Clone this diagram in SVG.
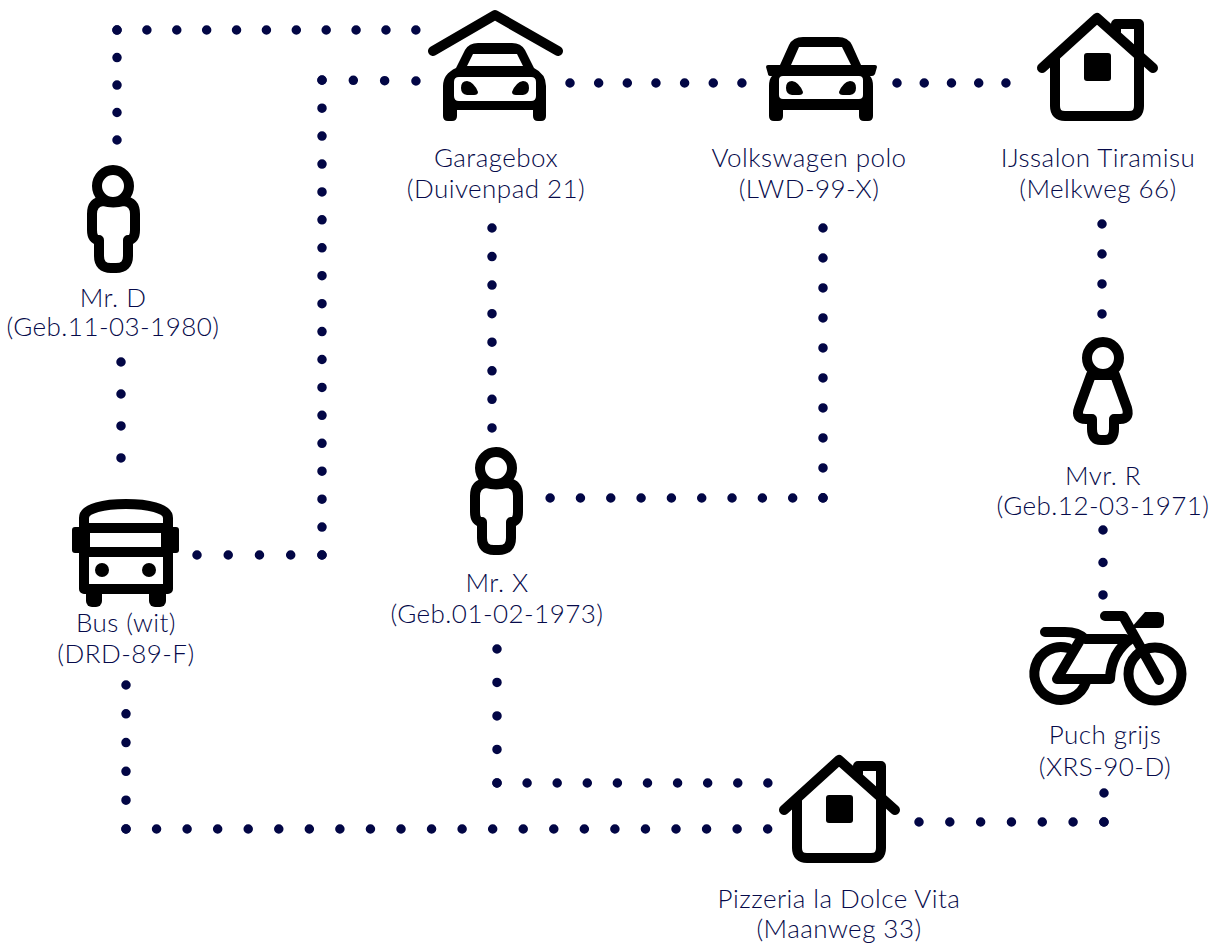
<svg xmlns="http://www.w3.org/2000/svg" xmlns:xlink="http://www.w3.org/1999/xlink" width="1216" height="944" viewBox="0 0 1216 944">
<style>
text{font-family:"Lato","Noto Sans",sans-serif;font-size:26px;letter-spacing:.45px;font-weight:300;fill:#060a4a;text-anchor:middle}
.i{fill:none;stroke:#000;stroke-width:10;stroke-linecap:round;stroke-linejoin:round}
.f{fill:#000;stroke:none;fill-rule:evenodd}
#connectors path{fill:none;stroke:#020645;stroke-width:9.5;stroke-linecap:round;stroke-dasharray:0 .9995}
</style>
<defs>
<g id="house">
<path class="i" d="M1042 68L1097 18L1153 68"/>
<path class="i" d="M1055 58V106Q1055 116 1065 116H1129Q1139 116 1139 106V24H1116V32"/>
<rect class="f" x="1084" y="53" width="27" height="28" rx="3"/>
</g>
<g id="man">
<circle class="i" cx="113" cy="186" r="16"/>
<path class="i" d="M103 201Q113 204 124 201Q135 202 135 214V230Q135 240 128 240V256Q128 268 116 268H111Q99 268 99 256V240Q92 240 92 230V214Q92 202 103 201Z"/>
</g>
</defs>
<g id="connectors">
<path pathLength="4" d="M117 140V30"/><path pathLength="10" d="M117 30H416"/>
<path pathLength="4" d="M197 555H322"/><path pathLength="17" d="M322 555V80"/><path pathLength="3" d="M322 80L416 81"/>
<path pathLength="6" d="M570 83H742"/>
<path pathLength="4" d="M897 83H1006"/>
<path pathLength="7" d="M492 228V428"/>
<path pathLength="9" d="M823 228V498"/><path pathLength="9" d="M823 498H550"/>
<path pathLength="3" d="M1102 224V314"/>
<path pathLength="2" d="M1103 530V595"/>
<path pathLength="3" d="M121 362V458"/>
<path pathLength="5" d="M126 685V829"/><path pathLength="21" d="M126 829H768"/>
<path pathLength="4" d="M497 649V783"/><path pathLength="9" d="M497 783H768"/>
<path pathLength="6" d="M919 822H1104"/><path pathLength="1" d="M1104 822V793"/>
</g>
<g id="garagebox">
<path class="i" d="M433 51L495 15L558 51"/>
<path class="f" d="M456 68L465 50Q469 43 478 43H512Q521 43 525 50L534 68Q546 74 546 86V116Q546 121 541 121H538Q533 121 533 116V110H457V116Q457 121 452 121H448Q443 121 443 116V86Q443 74 456 68ZM467 66H523L517 54H473ZM459 77Q454 77 454 82V96Q454 101 459 101H531Q536 101 536 96V82Q536 77 531 77Z"/>
<path class="f" d="M461 88Q461 81 467 81Q474 82 478 92Q478 95 474 95H467Q461 94 461 88ZM529 88Q529 81 523 81Q516 82 512 92Q512 95 516 95H523Q529 94 529 88Z"/>
<text x="496" y="167">Garagebox</text><text x="496" y="198">(Duivenpad 21)</text>
</g>
<g id="volkswagen">
<path class="f" d="M780 65L789 45Q793 37 803 37H838Q848 37 852 45L861 65H875Q877 65 877 67L875 74Q874 76 872 76H870Q873 79 873 86V116Q873 121 868 121H864Q859 121 859 116V110H783V116Q783 121 778 121H774Q769 121 769 116V86Q769 79 772 76H771Q768 76 768 74L766 67Q766 65 768 65ZM791 65H851L842 47H799ZM783 76Q779 76 779 80V95Q779 99 783 99H859Q863 99 863 95V80Q863 76 859 76Z"/>
<path class="f" d="M786 88Q786 81 792 81Q799 82 803 92Q803 95 799 95H792Q786 94 786 88ZM856 88Q856 81 850 81Q843 82 839 92Q839 95 843 95H850Q856 94 856 88Z"/>
<text x="809" y="167">Volkswagen polo</text><text x="809" y="198">(LWD-99-X)</text>
</g>
<g id="ijssalon">
<use xlink:href="#house"/>
<text x="1098" y="167">IJssalon Tiramisu</text><text x="1098" y="198">(Melkweg 66)</text>
</g>
<g id="mr-d">
<use xlink:href="#man"/>
<text x="113" y="307">Mr. D</text><text x="113" y="336">(Geb.11-03-1980)</text>
</g>
<g id="mr-x">
<use xlink:href="#man" x="383" y="282"/>
<text x="497" y="592">Mr. X</text><text x="497" y="623">(Geb.01-02-1973)</text>
</g>
<g id="mvr-r">
<circle class="i" cx="1103" cy="358" r="16"/>
<path class="i" d="M1091 375H1115L1127 408Q1130 419 1120 419H1114V429Q1114 440 1105 440H1101Q1092 440 1092 429V419H1086Q1075 419 1079 408Z"/>
<text x="1103" y="485">Mvr. R</text><text x="1103" y="515">(Geb.12-03-1971)</text>
</g>
<g id="bus">
<path class="i" d="M84 589V518C84 508 105 504 126 504C147 504 168 508 168 518V589ZM84 528H168M84 552H168"/>
<rect class="f" x="72" y="527" width="18" height="26" rx="3"/>
<rect class="f" x="161" y="527" width="18" height="26" rx="3"/>
<rect class="f" x="86" y="588" width="16" height="19" rx="6"/>
<rect class="f" x="149" y="588" width="17" height="19" rx="6"/>
<circle class="f" cx="102" cy="570" r="7"/><circle class="f" cx="149" cy="570" r="7"/>
<text x="126" y="632">Bus (wit)</text><text x="126" y="663">(DRD-89-F)</text>
</g>
<g id="puch">
<path class="i" d="M1068 648A26.5 26.5 0 1 0 1086 682"/>
<circle class="i" cx="1155" cy="674" r="26.5"/>
<path class="i" d="M1045 632H1065Q1078 632 1085 639H1125M1079 642L1057 679H1110Q1111 652 1132 638M1105 616H1123L1159 680"/>
<path class="f" d="M1131 628L1145 612H1158Q1164 612 1164 618V622Q1164 628 1158 628Z"/>
<text x="1105" y="744">Puch grijs</text><text x="1105" y="776">(XRS-90-D)</text>
</g>
<g id="pizzeria">
<use xlink:href="#house" x="-258" y="742"/>
<text x="839" y="908">Pizzeria la Dolce Vita</text><text x="839" y="938">(Maanweg 33)</text>
</g>
</svg>
